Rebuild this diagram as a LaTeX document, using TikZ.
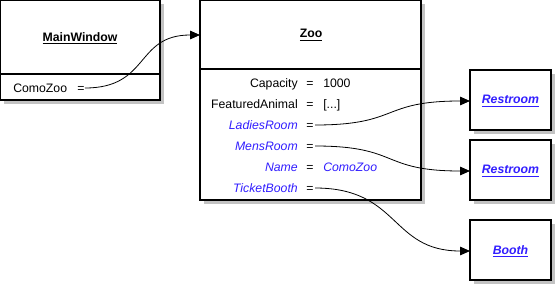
\documentclass[tikz,border=0pt]{standalone}
\usepackage{fontspec}
\setmainfont{Liberation Sans}
\usetikzlibrary{arrows.meta}
\definecolor{propblue}{RGB}{50,30,255}
\definecolor{shadowgray}{RGB}{195,195,195}
\begin{document}
\begin{tikzpicture}[x=0.75pt,y=-0.75pt,
  font=\fontsize{9.2}{11}\selectfont,
  objbox/.style={draw=black,line width=0.8pt,fill=white},
  shade box/.style={fill=shadowgray},
  lbl/.style={anchor=base east,inner sep=0pt},
  eqs/.style={anchor=base,inner sep=0pt},
  val/.style={anchor=base west,inner sep=0pt},
  link/.style={line width=0.6pt,-{Triangle[length=7.5pt,width=6.5pt]}},
  blue/.style={text=propblue,font=\fontsize{9.2}{11}\selectfont\itshape}
]
\useasboundingbox (0,0) rectangle (555,285);
% shadows
\fill[shade box] (4,4) rectangle (164,104);
\fill[shade box] (204,4) rectangle (425,204);
\fill[shade box] (474,74) rectangle (555,134);
\fill[shade box] (474,144) rectangle (555,204);
\fill[shade box] (474,224) rectangle (555,284);
% MainWindow
\path[objbox] (0.5,0.5) rectangle (160,100);
\draw[line width=0.8pt] (0.5,74) -- (160,74);
\node[inner sep=0pt] (mw) at (80,38) {\textbf{\underline{MainWindow}}};
\node[val] (mwl) at (13,92.5) {ComoZoo};
\node[eqs] (mweq) at (81,92.5) {=};
% Zoo
\path[objbox] (200,0.5) rectangle (421,200);
\draw[line width=0.8pt] (200,69) -- (421,69);
\node[inner sep=0pt] (zoo) at (311,35) {\textbf{\underline{Zoo}}};
\coordinate (zooin) at (200,35);
\node[lbl] (l1) at (298,87.5) {Capacity};
\node[eqs] (e1) at (310,87.5) {=};
\node[val] (v1) at (323,87.5) {1000};
\node[lbl] (l2) at (298,108.5) {FeaturedAnimal};
\node[eqs] (e2) at (310,108.5) {=};
\node[val] (v2) at (323,108.5) {[...]};
\node[lbl,blue] (l3) at (298,129.5) {LadiesRoom};
\node[eqs] (e3) at (310,129.5) {=};
\node[lbl,blue] (l4) at (298,150.5) {MensRoom};
\node[eqs] (e4) at (310,150.5) {=};
\node[lbl,blue] (l5) at (298,171.5) {Name};
\node[eqs] (e5) at (310,171.5) {=};
\node[val,blue] (v5) at (323,171.5) {ComoZoo};
\node[lbl,blue] (l6) at (298,192.5) {TicketBooth};
\node[eqs] (e6) at (310,192.5) {=};
% Target boxes
\path[objbox] (470,70) rectangle (551,130);
\node[inner sep=0pt,text=propblue] (r1) at (510.5,101) {\textbf{\textit{\underline{Restroom}}}};
\path[objbox] (470,140) rectangle (551,200);
\node[inner sep=0pt,text=propblue] (r2) at (510.5,171) {\textbf{\textit{\underline{Restroom}}}};
\path[objbox] (470,220) rectangle (551,280);
\node[inner sep=0pt,text=propblue] (bo) at (510.5,251) {\textbf{\textit{\underline{Booth}}}};
\coordinate (r1in) at (470,101);
\coordinate (r2in) at (470,171);
\coordinate (boin) at (470,251);
% Connectors
\coordinate (s0) at (85,88);
\coordinate (s3) at (315,125);
\coordinate (s4) at (315,146);
\coordinate (s6) at (315,188);
\draw[link] (s0) .. controls (150,88) and (135,35) .. (zooin);
\draw[link] (s3) .. controls (400,125) and (380,101) .. (r1in);
\draw[link] (s4) .. controls (400,146) and (380,171) .. (r2in);
\draw[link] (s6) .. controls (400,188) and (390,251) .. (boin);
\end{tikzpicture}
\end{document}
